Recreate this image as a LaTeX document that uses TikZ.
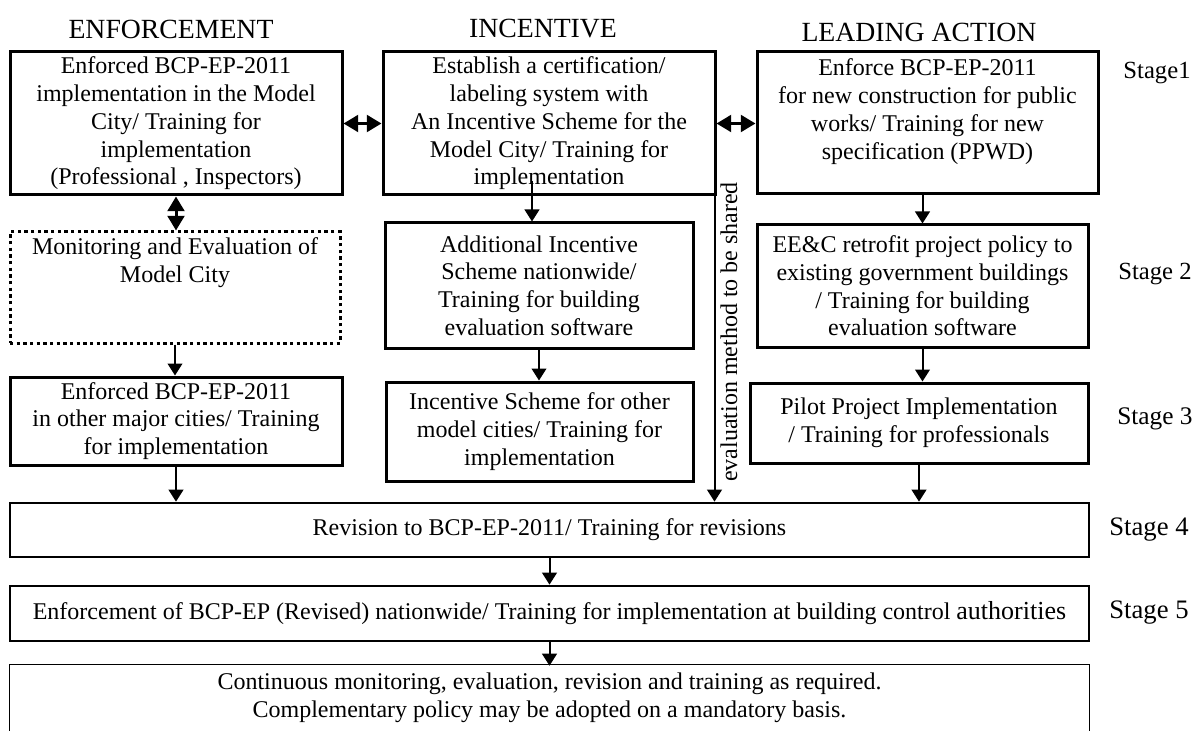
\documentclass[tikz,border=0pt]{standalone}
\usepackage{fontspec}
\setmainfont{Liberation Serif}
\usetikzlibrary{arrows.meta,calc}

\newcommand\boxfont{\fontsize{18}{20.8}\selectfont}
\newcommand\headfont{\fontsize{20.8}{24}\selectfont}
\newcommand\stagefont{\fontsize{20}{24}\selectfont}

\begin{document}
\begin{tikzpicture}[x=0.75pt, y=-0.75pt,
    every node/.style={align=center, font=\boxfont},
    box/.style={draw, line width=2.25pt, inner sep=0pt},
    dotbox/.style={draw, line width=2.25pt, dash pattern=on 2.4pt off 2.6pt, inner sep=0pt},
    arr/.style={-{Triangle[length=9pt,width=11pt]}, line width=1.5pt},
    dbl/.style={{Triangle[length=11pt,width=12.5pt]}-{Triangle[length=11pt,width=12.5pt]}, line width=2.25pt},
    head/.style={font=\headfont},
    stage/.style={font=\stagefont}]
    \clip (0,0) rectangle (1197,731);

    % column titles
    \node[head] (henf) at (171,29) {ENFORCEMENT};
    \node[head] (hinc) at (543,29) {INCENTIVE};
    \node[head] (hlead) at (919,32) {LEADING ACTION};

    % stage 1
    \node[box, minimum width=249pt, minimum height=107.25pt] (e1) at (176,123.5)
        {Enforced BCP-EP-2011\\implementation in the Model\\City/ Training for\\implementation\\(Professional , Inspectors)};
    \node[box, minimum width=249pt, minimum height=107.25pt] (i1) at (549,123.5)
        {Establish a certification/\\labeling system with\\An Incentive Scheme for the\\Model City/ Training for\\implementation};
    \node[box, minimum width=255.75pt, minimum height=106.5pt] (l1) at (927.5,123)
        {Enforce BCP-EP-2011\\for new construction for public\\works/ Training for new\\specification (PPWD)\\ \mbox{}};

    % stage 2
    \node[dotbox, minimum width=247.5pt, minimum height=83.25pt] (mon) at (175,287.5)
        {Monitoring and Evaluation of\\Model City\\ \mbox{}\\ \mbox{}};
    \node[box, minimum width=231pt, minimum height=93.75pt] (i2) at (539,285.5)
        {Additional Incentive\\Scheme nationwide/\\Training for building\\evaluation software};
    \node[box, minimum width=248.25pt, minimum height=91.5pt] (l2) at (922.5,286)
        {EE\&C retrofit project policy to\\existing government buildings\\/ Training for building\\evaluation software};

    % stage 3
    \node[box, minimum width=249pt, minimum height=66pt] (e3) at (176,421)
        {Enforced BCP-EP-2011\\in other major cities/ Training\\for implementation};
    \node[box, minimum width=230.25pt, minimum height=74.25pt] (i3) at (539.5,431.5)
        {Incentive Scheme for other\\model cities/ Training for\\implementation};
    \node[box, minimum width=253.5pt, minimum height=60pt] (l3) at (919,423)
        {Pilot Project Implementation\\/ Training for professionals};

    % stages 4 and 5
    \node[box, line width=2pt, minimum width=809.25pt, minimum height=40.5pt] (rev) at (549.5,530)
        {Revision to BCP-EP-2011/ Training for revisions};
    \node[box, line width=2pt, minimum width=809.25pt, minimum height=41.25pt] (enf) at (549.5,613.5)
        {Enforcement of BCP-EP (Revised) nationwide/ Training for implementation at building control {\fontsize{19.5}{20}\selectfont authorities}};
    \node[minimum width=809.25pt, minimum height=47.25pt, inner sep=0pt] (cont) at (549.5,697.5)
        {Continuous monitoring, evaluation, revision and training as required.\\Complementary policy may be adopted on a mandatory basis.};
    \draw[line width=1pt] ($(cont.south west)+(0,30)$) -- ($(cont.north west)+(0,-1)$) -- ($(cont.north east)+(0,-1)$) -- ($(cont.south east)+(0,30)$);

    \node[stage, font=\fontsize{18.5}{20}\selectfont] (s1) at (1157,73) {Stage1};
    \node[stage, font=\fontsize{18.5}{20}\selectfont] (s2) at (1155,274) {Stage 2};
    \node[stage, font=\fontsize{19}{20}\selectfont] (s3) at (1155,419) {Stage 3};
    \node[stage] (s4) at (1149,530) {Stage 4};
    \node[stage] (s5) at (1149,613) {Stage 5};

    % links
    \draw[dbl] (e1.east) -- (e1.east -| i1.west);
    \draw[dbl] (i1.east) -- (i1.east -| l1.west);
    \draw[dbl] (e1.south) -- (e1.south |- mon.north);
    \draw[arr] (mon.south) -- (mon.south |- e3.north);
    \draw[arr] ($(i1.south)+(-17,-15)$) -- ($(i2.north)+(-7,0)$);
    \draw[arr] (i2.south) -- (i2.south |- i3.north);
    \draw[arr] (l1.south -| l2.north) -- (l2.north);
    \draw[arr] (l2.south) -- (l2.south |- l3.north);
    \draw[arr] (e3.south) -- (e3.south |- rev.north);
    \draw[arr] (l3.south) -- (l3.south |- rev.north);
    \draw[arr] ($(i1.south east)+(-2,0)$) coordinate (evtop) -- (evtop |- rev.north);
    \node[rotate=90] (evtext) at (729,332) {evaluation method to be shared};
    \draw[arr] (rev.south) -- (enf.north);
    \draw[arr] (enf.south) -- (cont.north);
\end{tikzpicture}
\end{document}
